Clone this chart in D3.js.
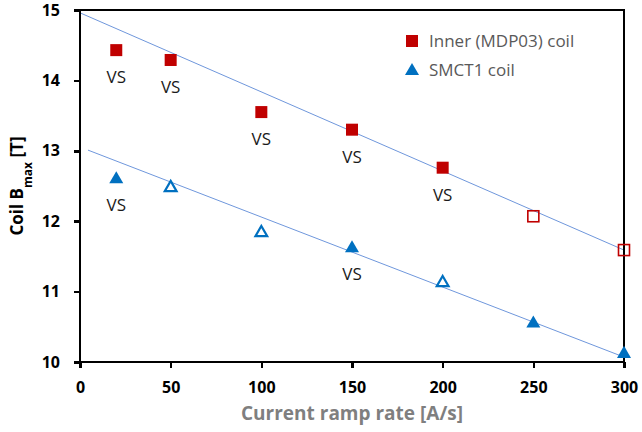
<!DOCTYPE html>
<html>
<head>
<meta charset="utf-8">
<script src="https://cdn.jsdelivr.net/npm/d3@7/dist/d3.min.js"></script>
<style>
  body { margin: 0; background: #fff; }
  text { font-family: "Open Sans", "Liberation Sans", sans-serif; }
</style>
</head>
<body>
<script>
(function(){
    // ramp rates [A/s]
    var rates = [20, 50, 100, 150, 200, 250, 300];

    // inner (MDP03) coil Bmax [T], filled = measured with VS
    var innerB = [14.43, 14.29, 13.55, 13.30, 12.76, 12.07, 11.59];
    var innerFilled = [true, true, true, true, true, false, false];
    var innerVS = [true, true, true, true, true, false, false];

    // SMCT1 coil Bmax [T]
    var smctB = [12.61, 12.49, 11.85, 11.63, 11.14, 10.56, 10.13];
    var smctFilled = [true, false, false, true, false, true, true];
    var smctVS = [true, false, false, true, false, false, false];

    // linear trend lines, end points [rate, B]
    var innerTrend = [[0, 14.96], [300, 11.59]];
    var smctTrend = [[4.4, 13.01], [300, 10.07]];

    var xTicks = [0, 50, 100, 150, 200, 250, 300];
    var yTicks = [10, 11, 12, 13, 14, 15];

    var width = 642, height = 432;
    var margin = {top: 10, right: 18, bottom: 70, left: 80};

    var svg = d3.select("body").append("svg")
        .attr("width", width)
        .attr("height", height);

    var x = d3.scaleLinear().domain([0, 300]).range([margin.left, width - margin.right]);
    var y = d3.scaleLinear().domain([10, 15]).range([height - margin.bottom, margin.top]);

    var red = "#c00000", blue = "#0070c0";

    // trend lines
    var line = d3.line().x(function(d){ return x(d[0]); }).y(function(d){ return y(d[1]); });
    [innerTrend, smctTrend].forEach(function(t){
        svg.append("path")
            .attr("d", line(t))
            .attr("fill", "none")
            .attr("stroke", "#6f97dc")
            .attr("stroke-width", 1);
    });

    // frame
    svg.append("rect")
        .attr("x", x(0)).attr("y", y(15))
        .attr("width", x(300) - x(0)).attr("height", y(10) - y(15))
        .attr("fill", "none").attr("stroke", "#000").attr("stroke-width", 2.5)
        .attr("shape-rendering", "crispEdges");

    // axes
    var xAxis = svg.append("g")
        .attr("transform", "translate(0," + y(10) + ")")
        .call(d3.axisBottom(x).tickValues(xTicks).tickSize(6).tickPadding(14));
    var yAxis = svg.append("g")
        .attr("transform", "translate(" + x(0) + ",0)")
        .call(d3.axisLeft(y).tickValues(yTicks).tickFormat(d3.format("d")).tickSize(6).tickPadding(14));
    [xAxis, yAxis].forEach(function(a){
        a.select(".domain").remove();
        a.selectAll(".tick line").attr("stroke", "#000").attr("stroke-width", 2.5)
            .attr("shape-rendering", "crispEdges");
        a.selectAll(".tick text")
            .attr("fill", "#000")
            .style("font-size", "16px")
            .style("font-weight", "bold")
            .style("font-family", "'Open Sans', sans-serif");
    });

    // markers
    var sq = 12, sqOpen = 11;
    function drawSquares(vals, filled){
        svg.selectAll(null)
            .data(rates.map(function(r, i){ return {r: r, v: vals[i], f: filled[i]}; }))
            .enter().append("rect")
            .attr("x", function(d){ return x(d.r) - (d.f ? sq : sqOpen) / 2; })
            .attr("y", function(d){ return y(d.v) - (d.f ? sq : sqOpen) / 2; })
            .attr("width", function(d){ return d.f ? sq : sqOpen; })
            .attr("height", function(d){ return d.f ? sq : sqOpen; })
            .attr("fill", function(d){ return d.f ? red : "#fff"; })
            .attr("fill-opacity", function(d){ return d.f ? 1 : 0; })
            .attr("stroke", red)
            .attr("stroke-width", function(d){ return d.f ? 0 : 1.6; });
    }
    var tri = d3.symbol().type(d3.symbolTriangle);
    function drawTriangles(vals, filled){
        svg.selectAll(null)
            .data(rates.map(function(r, i){ return {r: r, v: vals[i], f: filled[i]}; }))
            .enter().append("path")
            .attr("d", function(d){ return tri.size(d.f ? 85 : 60)(); })
            .attr("transform", function(d){ return "translate(" + x(d.r) + "," + (y(d.v) + 1) + ")"; })
            .attr("fill", function(d){ return d.f ? blue : "none"; })
            .attr("stroke", blue)
            .attr("stroke-width", function(d){ return d.f ? 0 : 2.2; });
    }
    drawSquares(innerB, innerFilled);
    drawTriangles(smctB, smctFilled);

    // VS labels
    function drawVS(vals, flags){
        svg.selectAll(null)
            .data(rates.map(function(r, i){ return {r: r, v: vals[i], s: flags[i]}; })
                .filter(function(d){ return d.s; }))
            .enter().append("text")
            .attr("x", function(d){ return x(d.r); })
            .attr("y", function(d){ return y(d.v) + 33; })
            .attr("text-anchor", "middle")
            .attr("fill", "#1a1a1a")
            .style("font-size", "17px")
            .text("VS");
    }
    drawVS(innerB, innerVS);
    drawVS(smctB, smctVS);

    // axis titles
    svg.append("text")
        .attr("x", (x(0) + x(300)) / 2)
        .attr("y", 420)
        .attr("text-anchor", "middle")
        .attr("fill", "#7f7f7f")
        .style("font-size", "19px")
        .style("font-weight", "bold")
        .text("Current ramp rate [A/s]");

    var yt = svg.append("text")
        .attr("transform", "translate(23," + y(12.5) + ") rotate(-90)")
        .attr("text-anchor", "middle")
        .attr("fill", "#000")
        .style("font-size", "17px")
        .style("font-weight", "bold");
    yt.append("tspan").text("Coil B");
    yt.append("tspan").attr("baseline-shift", "sub").style("font-size", "12px").text("max");
    yt.append("tspan").text(" [T]");

    // legend
    var lg = svg.append("g").attr("transform", "translate(412,41)");
    lg.append("rect").attr("x", -6).attr("y", -6).attr("width", 12).attr("height", 12).attr("fill", red);
    lg.append("text").attr("x", 17).attr("y", 6).attr("fill", "#595959")
        .style("font-size", "17px").text("Inner (MDP03) coil");
    lg.append("path").attr("d", tri.size(85)()).attr("transform", "translate(0,30)").attr("fill", blue);
    lg.append("text").attr("x", 17).attr("y", 35).attr("fill", "#595959")
        .style("font-size", "17px").text("SMCT1 coil");
})();
</script>
</body>
</html>
